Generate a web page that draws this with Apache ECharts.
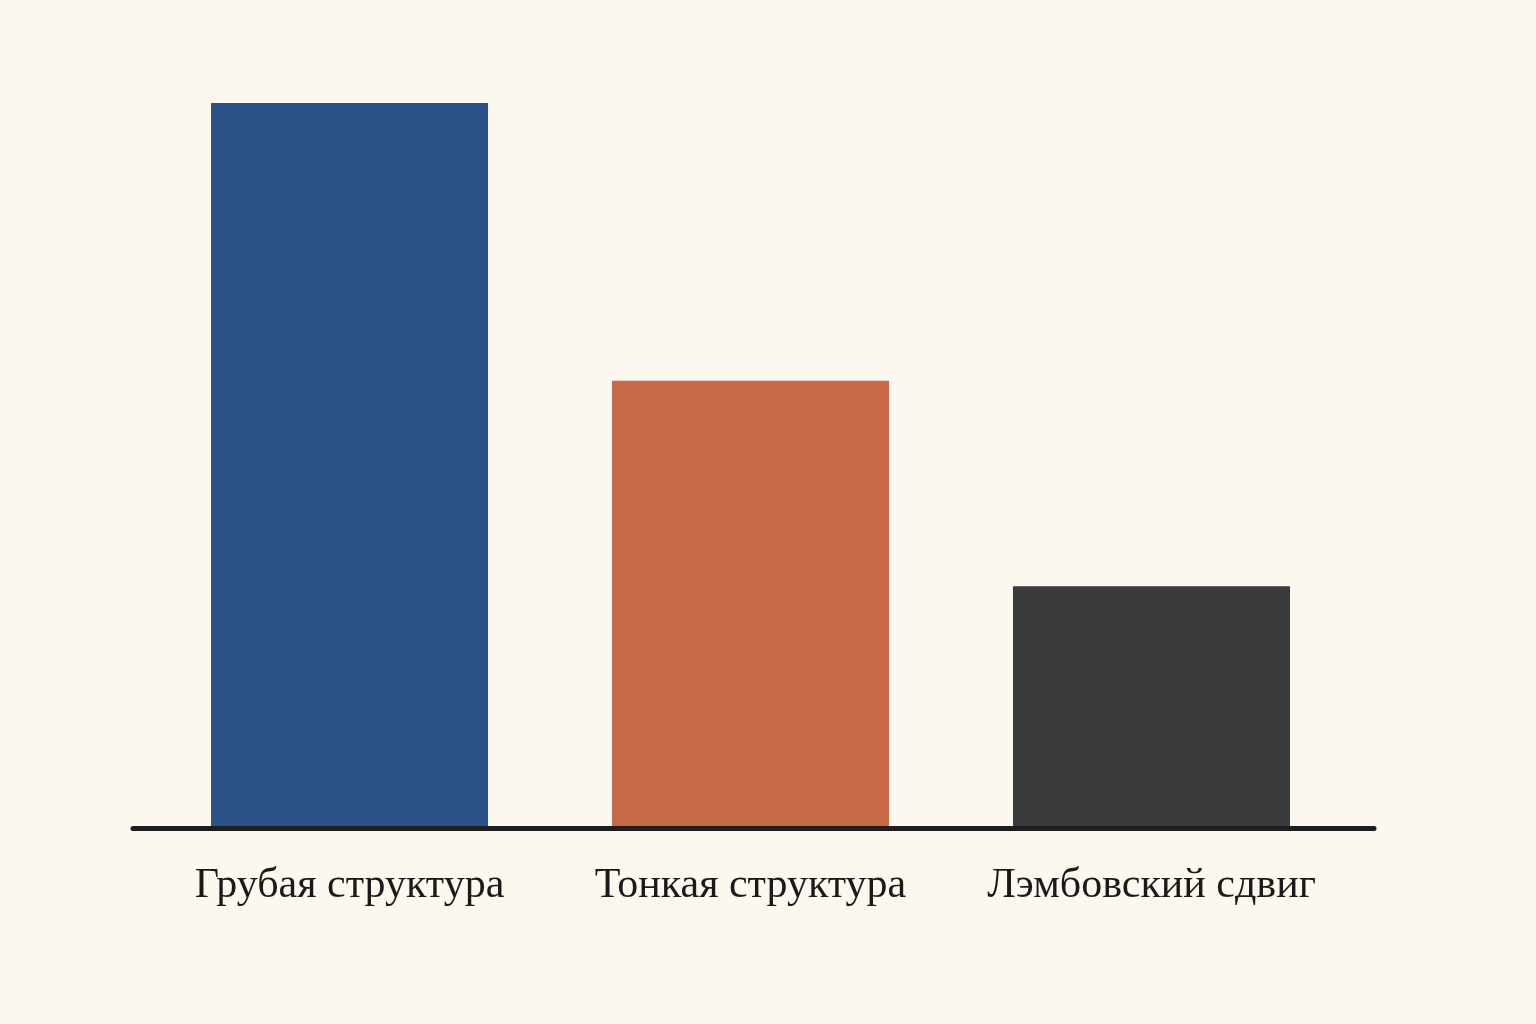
<!DOCTYPE html>
<html>
<head>
<meta charset="utf-8">
<script src="https://cdn.jsdelivr.net/npm/echarts@6/dist/echarts.min.js"></script>
<style>
html,body{margin:0;padding:0;background:#FCF8F0;}
#chart{width:1536px;height:1024px;}
</style>
</head>
<body>
<div id="chart"></div>
<script>
const categories = ['Грубая структура', 'Тонкая структура', 'Лэмбовский сдвиг'];
const values = [100, 61.7, 33.4];
const colors = ['#2A5288', '#C86A48', '#3B3B3B'];

const chart = echarts.init(document.getElementById('chart'));
chart.setOption({
  backgroundColor: '#FCF8F0',
  animation: false,
  grid: [
    { left: 149, width: 1203, top: 103, bottom: 195.5 },
    { left: 133, right: 162, top: 103, bottom: 195.5 }
  ],
  xAxis: [
    {
      type: 'category', gridIndex: 0, data: categories,
      axisLine: { show: false }, axisTick: { show: false },
      axisLabel: { interval: 0, hideOverlap: false, color: '#1a1a1a', fontFamily: 'Liberation Serif', fontSize: 42, margin: 36 }
    },
    {
      type: 'value', gridIndex: 1, min: 0, max: 1, z: 10,
      axisLine: { show: true, lineStyle: { color: '#1e1e1e', width: 5 } },
      axisTick: { show: false }, axisLabel: { show: false }, splitLine: { show: false }
    }
  ],
  yAxis: [
    { type: 'value', gridIndex: 0, min: 0, max: 100, show: false },
    { type: 'value', gridIndex: 1, min: 0, max: 1, show: false }
  ],
  series: [{
    type: 'bar',
    xAxisIndex: 0, yAxisIndex: 0,
    barWidth: 277,
    data: values.map((v, i) => ({ value: v, itemStyle: { color: colors[i] } }))
  }]
});
</script>
</body>
</html>
